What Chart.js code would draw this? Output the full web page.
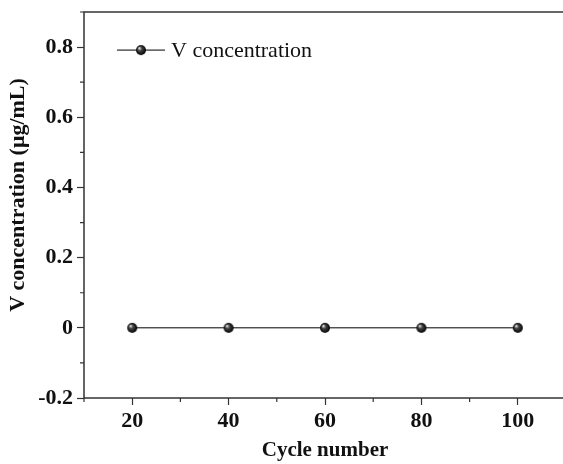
<!DOCTYPE html>
<html>
<head>
<meta charset="utf-8">
<script src="https://cdn.jsdelivr.net/npm/chart.js@4.4.1/dist/chart.umd.min.js"></script>
<style>
  html, body { margin: 0; padding: 0; background: #fff; overflow: hidden; }
  #wrap { width: 572px; height: 464px; }
</style>
</head>
<body>
<div id="wrap"><canvas id="chart"></canvas></div>
<script>
// Cycle numbers and measured V concentration
const cycles = [20, 40, 60, 80, 100];
const vConcentration = [0, 0, 0, 0, 0];
const seriesLabel = "V concentration";
const xTitle = "Cycle number";
const yTitle = "V concentration (\u03bcg/mL)";

const serif = "'Liberation Serif', 'Times New Roman', serif";
const axisColor = "#333";

// small shaded sphere used as marker
function sphere(r) {
  const c = document.createElement("canvas");
  c.width = c.height = r * 2 + 2;
  const g = c.getContext("2d");
  const cx = r + 1, cy = r + 1;
  const grad = g.createRadialGradient(cx - r * 0.35, cy - r * 0.4, 0.5, cx, cy, r);
  grad.addColorStop(0, "#d8d8d8");
  grad.addColorStop(0.35, "#444");
  grad.addColorStop(1, "#000");
  g.fillStyle = grad;
  g.beginPath();
  g.arc(cx, cy, r, 0, Math.PI * 2);
  g.fill();
  return c;
}
const marker = sphere(5);

const isMajor = (v, step) => Math.round(v / step) % 2 === 0;

// frame, minor ticks, y title and legend
const framePlugin = {
  id: "frame",
  afterDraw(chart) {
    const { ctx, chartArea: a, scales } = chart;
    ctx.save();
    ctx.strokeStyle = axisColor;
    ctx.lineWidth = 1.5;
    ctx.strokeRect(a.left, a.top, a.right - a.left, a.bottom - a.top);

    ctx.lineWidth = 1.2;
    ctx.beginPath();
    scales.x.ticks.forEach(t => {
      if (!isMajor(t.value, 10)) {
        const px = scales.x.getPixelForValue(t.value);
        ctx.moveTo(px, a.bottom);
        ctx.lineTo(px, a.bottom + 4);
      }
    });
    scales.y.ticks.forEach(t => {
      if (!isMajor(t.value, 0.1)) {
        const py = scales.y.getPixelForValue(t.value);
        ctx.moveTo(a.left, py);
        ctx.lineTo(a.left - 4, py);
      }
    });
    ctx.stroke();

    // y axis title, sitting a little above the middle
    ctx.save();
    ctx.translate(18, (a.top + a.bottom) / 2 - 10);
    ctx.rotate(-Math.PI / 2);
    ctx.fillStyle = "#111";
    ctx.font = "bold 22px " + serif;
    ctx.textAlign = "center";
    ctx.textBaseline = "middle";
    ctx.fillText(yTitle, 0, 0);
    ctx.restore();

    // legend entry
    const lx = a.left + 33, ly = scales.y.getPixelForValue(0.8) + 3;
    ctx.strokeStyle = "#000";
    ctx.lineWidth = 1;
    ctx.beginPath();
    ctx.moveTo(lx, ly);
    ctx.lineTo(lx + 48, ly);
    ctx.stroke();
    ctx.drawImage(marker, lx + 24 - marker.width / 2, ly - marker.height / 2);
    ctx.fillStyle = "#111";
    ctx.font = "22px " + serif;
    ctx.textBaseline = "middle";
    ctx.fillText(chart.data.datasets[0].label, lx + 54, ly + 1);
    ctx.restore();
  }
};

new Chart(document.getElementById("chart"), {
  type: "line",
  data: {
    datasets: [{
      label: seriesLabel,
      data: cycles.map((c, i) => ({ x: c, y: vConcentration[i] })),
      borderColor: "#000",
      borderWidth: 1,
      pointStyle: marker,
      pointRadius: 5,
      tension: 0,
    }],
  },
  options: {
    responsive: true,
    maintainAspectRatio: false,
    animation: false,
    layout: { autoPadding: false, padding: { top: 12, right: 6, left: 0, bottom: 0 } },
    plugins: {
      legend: { display: false },
      tooltip: { enabled: false },
    },
    scales: {
      x: {
        type: "linear",
        min: 10,
        max: 110,
        afterFit: s => {
          s.height = 66;
          s.paddingLeft = 0;
          s.paddingRight = 0;
        },
        border: { display: false },
        grid: {
          drawOnChartArea: false,
          tickLength: 7,
          tickWidth: 1.2,
          tickColor: c => isMajor(c.tick.value, 10) ? axisColor : "rgba(0,0,0,0)",
        },
        ticks: {
          stepSize: 10,
          autoSkip: false,
          maxRotation: 0,
          padding: 3,
          color: "#111",
          font: { family: serif, size: 22, weight: "bold" },
          callback: v => isMajor(v, 10) ? String(v) : "",
        },
        title: {
          display: true,
          text: xTitle,
          color: "#111",
          padding: { top: 0, bottom: 1 },
          font: { family: serif, size: 21, weight: "bold" },
        },
      },
      y: {
        min: -0.2,
        max: 0.9,
        afterFit: s => {
          s.width = 84;
          s.paddingTop = 0;
          s.paddingBottom = 0;
        },
        border: { display: false },
        grid: {
          drawOnChartArea: false,
          tickLength: 7,
          tickWidth: 1.2,
          tickColor: c => isMajor(c.tick.value, 0.1) ? axisColor : "rgba(0,0,0,0)",
        },
        ticks: {
          stepSize: 0.1,
          autoSkip: false,
          padding: 4,
          color: "#111",
          font: { family: serif, size: 22, weight: "bold" },
          callback: v => {
            const n = Math.round(v * 10);
            if (n % 2 !== 0) return "";
            return n === 0 ? "0" : (n / 10).toFixed(1);
          },
        },
      },
    },
  },
  plugins: [framePlugin],
});
</script>
</body>
</html>
